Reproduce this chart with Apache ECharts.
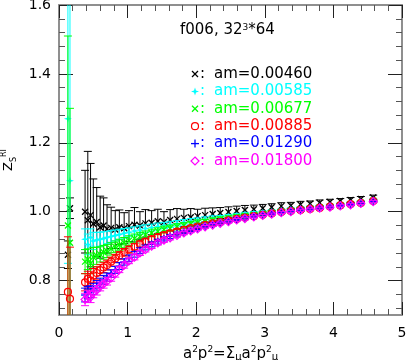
<!DOCTYPE html>
<html>
<head>
<meta charset="UTF-8">
<title>Z_S^RI vs a2p2</title>
<script src="https://cdn.jsdelivr.net/npm/echarts@6/dist/echarts.min.js"></script>
<style>html,body{margin:0;padding:0;background:#fff;}</style>
</head>
<body>
<div id="chart" style="width:407px;height:360px;"></div>
<script>
// a^2 p^2 of the momenta used
var momenta = [0.38, 0.42, 0.46, 0.50, 0.55, 0.60, 0.65, 0.70, 0.76, 0.82, 0.88, 0.95, 1.02, 1.10, 1.18,
  1.26, 1.35, 1.44, 1.53, 1.62, 1.72, 1.82, 1.92, 2.02, 2.13, 2.24, 2.35, 2.47, 2.59, 2.71, 2.84,
  2.97, 3.10, 3.24, 3.38, 3.52, 3.66, 3.80, 3.95, 4.10, 4.25, 4.40, 4.58];
var lowMomenta = [0.13, 0.16];

var masses = ['am=0.00460', 'am=0.00585', 'am=0.00677', 'am=0.00885', 'am=0.01290', 'am=0.01800'];
var colors = ['#000000', '#00ffff', '#00ff00', '#ff0000', '#0000ff', '#ff00ff'];
var markers = ['cross', 'star', 'cross', 'circle', 'plus', 'diamond'];

var zBlack = [1.0, 0.975, 0.99, 0.965, 0.97, 0.955, 0.96, 0.95, 0.953, 0.948, 0.955, 0.952, 0.958, 0.962, 0.96,
  0.966, 0.968, 0.972, 0.97, 0.976, 0.979, 0.982, 0.984, 0.987, 0.99, 0.993, 0.996, 0.999, 1.002, 1.005, 1.007,
  1.01, 1.013, 1.016, 1.018, 1.021, 1.023, 1.026, 1.028, 1.031, 1.034, 1.037, 1.041];
var errBlack = [0.12, 0.2, 0.15, 0.13, 0.1, 0.09, 0.08, 0.07, 0.06, 0.055, 0.05, 0.045, 0.045, 0.05, 0.04,
  0.04, 0.035, 0.035, 0.03, 0.03, 0.03, 0.025, 0.025, 0.02, 0.02, 0.018, 0.016, 0.015, 0.014, 0.013, 0.012,
  0.011, 0.01, 0.01, 0.009, 0.009, 0.008, 0.008, 0.008, 0.007, 0.007, 0.007, 0.007];
var zCyan = [0.92, 0.905, 0.925, 0.915, 0.918, 0.92, 0.922, 0.925, 0.928, 0.931, 0.934, 0.937, 0.94, 0.944, 0.947,
  0.951, 0.954, 0.957, 0.96, 0.963, 0.966, 0.969, 0.972, 0.975, 0.978, 0.981, 0.983, 0.986, 0.989, 0.992, 0.995,
  0.997, 1.0, 1.003, 1.006, 1.009, 1.012, 1.014, 1.017, 1.02, 1.024, 1.027, 1.033];
var errCyan = [0.03, 0.03, 0.025, 0.025, 0.022, 0.02, 0.02, 0.018, 0.017, 0.016, 0.015, 0.014, 0.013, 0.012, 0.012,
  0.011, 0.01, 0.01, 0.009, 0.009, 0.008, 0.008, 0.008, 0.007, 0.007, 0.007, 0.006, 0.006, 0.006, 0.006, 0.005,
  0.005, 0.005, 0.005, 0.005, 0.005, 0.004, 0.004, 0.004, 0.004, 0.004, 0.004, 0.004];
var zGreen = [0.855, 0.862, 0.85, 0.868, 0.872, 0.876, 0.882, 0.886, 0.892, 0.898, 0.904, 0.91, 0.916, 0.922, 0.928,
  0.933, 0.938, 0.943, 0.948, 0.952, 0.956, 0.96, 0.964, 0.968, 0.971, 0.975, 0.978, 0.982, 0.985, 0.988, 0.991,
  0.994, 0.997, 1.0, 1.003, 1.006, 1.009, 1.012, 1.015, 1.019, 1.022, 1.026, 1.032];
var errGreen = [0.035, 0.03, 0.03, 0.028, 0.025, 0.022, 0.02, 0.019, 0.018, 0.017, 0.016, 0.015, 0.014, 0.013, 0.012,
  0.011, 0.011, 0.01, 0.01, 0.009, 0.009, 0.008, 0.008, 0.008, 0.007, 0.007, 0.007, 0.006, 0.006, 0.006, 0.006,
  0.005, 0.005, 0.005, 0.005, 0.005, 0.005, 0.004, 0.004, 0.004, 0.004, 0.004, 0.004];
var zRed = [0.795, 0.805, 0.8, 0.815, 0.822, 0.83, 0.838, 0.845, 0.855, 0.864, 0.873, 0.882, 0.89, 0.898, 0.906,
  0.913, 0.92, 0.926, 0.932, 0.937, 0.942, 0.947, 0.952, 0.957, 0.962, 0.966, 0.97, 0.975, 0.979, 0.983, 0.987,
  0.991, 0.995, 0.999, 1.002, 1.005, 1.008, 1.011, 1.015, 1.018, 1.022, 1.025, 1.031];
var errRed = [0.025, 0.022, 0.02, 0.02, 0.018, 0.016, 0.015, 0.014, 0.013, 0.012, 0.011, 0.011, 0.01, 0.009, 0.009,
  0.008, 0.008, 0.008, 0.007, 0.007, 0.007, 0.006, 0.006, 0.006, 0.006, 0.005, 0.005, 0.005, 0.005, 0.005, 0.004,
  0.004, 0.004, 0.004, 0.004, 0.004, 0.004, 0.004, 0.003, 0.003, 0.003, 0.003, 0.003];
var zBlue = [0.758, 0.765, 0.768, 0.776, 0.785, 0.793, 0.802, 0.81, 0.82, 0.831, 0.842, 0.854, 0.865, 0.876, 0.887,
  0.896, 0.905, 0.913, 0.921, 0.928, 0.935, 0.941, 0.947, 0.953, 0.958, 0.963, 0.968, 0.973, 0.978, 0.982, 0.987,
  0.991, 0.995, 0.998, 1.002, 1.005, 1.008, 1.011, 1.014, 1.018, 1.021, 1.025, 1.03];
var errBlue = [0.02, 0.018, 0.017, 0.016, 0.015, 0.014, 0.013, 0.012, 0.011, 0.01, 0.01, 0.009, 0.009, 0.008, 0.008,
  0.007, 0.007, 0.007, 0.006, 0.006, 0.006, 0.005, 0.005, 0.005, 0.005, 0.005, 0.004, 0.004, 0.004, 0.004, 0.004,
  0.004, 0.003, 0.003, 0.003, 0.003, 0.003, 0.003, 0.003, 0.003, 0.003, 0.003, 0.003];
var zMagenta = [0.745, 0.755, 0.752, 0.765, 0.772, 0.783, 0.79, 0.798, 0.808, 0.82, 0.832, 0.845, 0.857, 0.868, 0.88,
  0.89, 0.9, 0.909, 0.917, 0.924, 0.931, 0.938, 0.944, 0.95, 0.956, 0.961, 0.966, 0.971, 0.976, 0.98, 0.985,
  0.989, 0.993, 0.997, 1.0, 1.004, 1.007, 1.01, 1.013, 1.017, 1.02, 1.024, 1.029];
var errMagenta = [0.018, 0.017, 0.016, 0.015, 0.014, 0.013, 0.012, 0.011, 0.01, 0.01, 0.009, 0.009, 0.008, 0.008, 0.007,
  0.007, 0.007, 0.006, 0.006, 0.006, 0.005, 0.005, 0.005, 0.005, 0.004, 0.004, 0.004, 0.004, 0.004, 0.004, 0.003,
  0.003, 0.003, 0.003, 0.003, 0.003, 0.003, 0.003, 0.003, 0.003, 0.003, 0.003, 0.003];

// lowest momenta (only the four lightest masses are in range)
var lowBlack = [0.875, 1.01], lowErrBlack = [0.04, 0.03];
var lowCyan = [1.27, 1.09], lowErrCyan = [0.42, 0.6];
var lowGreen = [0.96, 0.91], lowErrGreen = [0.55, 0.39];
var lowRed = [0.767, 0.747], lowErrRed = [0.16, 0.15];

var xTicks = [0, 1, 2, 3, 4, 5];
var yTicks = [0.8, 1.0, 1.2, 1.4, 1.6];

var zAll = [zBlack, zCyan, zGreen, zRed, zBlue, zMagenta];
var errAll = [errBlack, errCyan, errGreen, errRed, errBlue, errMagenta];
var lowAll = [lowBlack, lowCyan, lowGreen, lowRed, null, null];
var lowErrAll = [lowErrBlack, lowErrCyan, lowErrGreen, lowErrRed, null, null];

var yMinor = [];
for (var k = 18; k <= 40; k++) {
  var v = Math.round(k * 4) / 100;
  if (yTicks.indexOf(v) < 0) yMinor.push(v);
}

var FONT = '"DejaVu Sans", sans-serif';

function markerShapes(kind, cx, cy, color, s) {
  function seg(x1, y1, x2, y2) {
    return {type: 'line', shape: {x1: x1, y1: y1, x2: x2, y2: y2}, style: {stroke: color, lineWidth: 1.3}};
  }
  if (kind === 'cross') return [seg(cx - s, cy - s, cx + s, cy + s), seg(cx - s, cy + s, cx + s, cy - s)];
  if (kind === 'plus') return [seg(cx - s - 1, cy, cx + s + 1, cy), seg(cx, cy - s - 1, cx, cy + s + 1)];
  if (kind === 'star') return [{type: 'polygon', shape: {points: [[cx, cy - s - 1], [cx + 1, cy - 1], [cx + s + 1, cy],
    [cx + 1, cy + 1], [cx, cy + s + 1], [cx - 1, cy + 1], [cx - s - 1, cy], [cx - 1, cy - 1]]}, style: {fill: color}}];
  if (kind === 'circle') return [{type: 'circle', shape: {cx: cx, cy: cy, r: s + 0.5}, style: {stroke: color, fill: 'none', lineWidth: 1.2}}];
  return [{type: 'polygon', shape: {points: [[cx, cy - s - 1], [cx + s + 1, cy], [cx, cy + s + 1], [cx - s - 1, cy]]},
    style: {stroke: color, fill: 'none', lineWidth: 1.2}}];
}

function makeRender(kind, color) {
  return function (params, api) {
    var x = api.value(0), y = api.value(1), e = api.value(2);
    var p = api.coord([x, y]);
    var hi = api.coord([x, y + e]);
    var lo = api.coord([x, y - e]);
    var cap = 4;
    var st = {stroke: color, lineWidth: 1};
    var kids = [
      {type: 'line', shape: {x1: p[0], y1: hi[1], x2: p[0], y2: lo[1]}, style: st},
      {type: 'line', shape: {x1: p[0] - cap, y1: hi[1], x2: p[0] + cap, y2: hi[1]}, style: st},
      {type: 'line', shape: {x1: p[0] - cap, y1: lo[1], x2: p[0] + cap, y2: lo[1]}, style: st}
    ];
    return {type: 'group', children: kids.concat(markerShapes(kind, p[0], p[1], color, 3))};
  };
}

var series = masses.map(function (name, i) {
  var data = momenta.map(function (x, j) { return [x, zAll[i][j], errAll[i][j]]; });
  if (lowAll[i]) {
    lowMomenta.forEach(function (x, j) { data.unshift([x, lowAll[i][j], lowErrAll[i][j]]); });
  }
  return {
    name: name, type: 'custom', xAxisIndex: 0, yAxisIndex: 0, clip: true,
    encode: {x: 0, y: 1}, data: data, renderItem: makeRender(markers[i], colors[i])
  };
});

// legend drawn as text with marker glyphs
var graphics = [{
  type: 'text', left: 180, top: 23,
  style: {text: 'f006, 32{s|3}*64', font: '15px ' + FONT, fill: '#000',
    rich: {s: {fontSize: 9, verticalAlign: 'top', fontFamily: FONT, fill: '#000'}}}
}];
masses.forEach(function (name, i) {
  var cy = 74 + i * 17.4;
  graphics.push({type: 'group', children: markerShapes(markers[i], 195, cy, colors[i], 3)});
  graphics.push({type: 'text', x: 200, y: cy, style: {text: ':', font: '15px ' + FONT, fill: colors[i], verticalAlign: 'middle'}});
  graphics.push({type: 'text', x: 214, y: cy, style: {text: name, font: '15px ' + FONT, fill: colors[i], verticalAlign: 'middle'}});
});

function yAxisDef(pos, major, labels) {
  return {
    type: 'value', position: pos, min: 0.7, max: 1.6,
    axisLine: {show: major, lineStyle: {color: '#8f8f8f', width: 2}},
    axisTick: {show: true, inside: true, length: major ? 14 : 6, customValues: major ? yTicks : yMinor,
      lineStyle: {color: major ? '#222' : '#555', width: 1}},
    axisLabel: {show: labels, customValues: yTicks, margin: 8, color: '#000', fontSize: 14, fontFamily: FONT,
      formatter: function (v) { return v.toFixed(1); }},
    splitLine: {show: false}
  };
}
function xAxisDef(pos, labels) {
  return {
    type: 'value', position: pos, min: 0, max: 5, interval: 1,
    axisLine: {show: true, onZero: false, lineStyle: {color: '#8f8f8f', width: 2}},
    axisTick: {show: true, inside: true, length: 13, lineStyle: {color: '#222', width: 1}},
    minorTick: {show: true, splitNumber: 5, length: 6, lineStyle: {color: '#555', width: 1}},
    axisLabel: {show: labels, margin: 11, color: '#000', fontSize: 14, fontFamily: FONT},
    splitLine: {show: false}, minorSplitLine: {show: false}
  };
}

var xBottom = xAxisDef('bottom', true);
xBottom.name = 'a{s|2}p{s|2}=Σ{u|μ}a{s|2}p{s|2}{u|μ}';
xBottom.nameLocation = 'middle';
xBottom.nameGap = 26;
xBottom.nameTextStyle = {fontSize: 15, color: '#000', fontFamily: FONT, lineHeight: 18,
  rich: {s: {fontSize: 9, verticalAlign: 'top', lineHeight: 18, fontFamily: FONT, color: '#000'},
         u: {fontSize: 10, verticalAlign: 'bottom', lineHeight: 18, fontFamily: FONT, color: '#000'}}};

var yLeft = yAxisDef('left', true, true);
yLeft.name = 'Z{s|S}{r|RI}';
yLeft.nameLocation = 'middle';
yLeft.nameRotate = 90;
yLeft.nameGap = 40;
yLeft.nameTextStyle = {fontSize: 13, color: '#000', fontFamily: FONT, lineHeight: 18,
  rich: {s: {fontSize: 8, verticalAlign: 'bottom', lineHeight: 18, fontFamily: FONT, color: '#000'},
         r: {fontSize: 8, verticalAlign: 'top', lineHeight: 18, fontFamily: FONT, color: '#000'}}};

var chart = echarts.init(document.getElementById('chart'), null, {renderer: 'canvas'});
chart.setOption({
  animation: false,
  backgroundColor: '#fff',
  grid: {left: 59, top: 5, width: 343, height: 310, containLabel: false, outerBoundsMode: 'none'},
  xAxis: [xBottom, xAxisDef('top', false)],
  yAxis: [yLeft, yAxisDef('left', false, false), yAxisDef('right', true, false), yAxisDef('right', false, false)],
  graphic: graphics,
  series: series
});
</script>
</body>
</html>
